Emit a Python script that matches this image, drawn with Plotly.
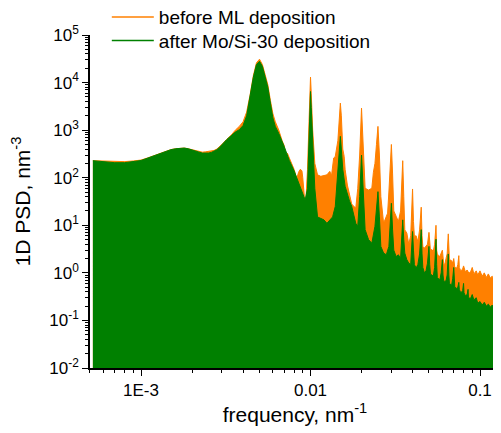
import plotly.graph_objects as go

# ---- data: before ML deposition (orange) ----
f_before = [0.00052, 0.0006, 0.0007, 0.0008, 0.0009, 0.001, 0.0011, 0.0012, 0.0013, 0.0014,
            0.0015, 0.0016, 0.0017, 0.0018, 0.0019, 0.002, 0.0021, 0.0022, 0.0023, 0.0024,
            0.0025, 0.0026, 0.0027, 0.0028, 0.0029, 0.003, 0.0032, 0.0034, 0.0036, 0.0038,
            0.004, 0.0042, 0.0044, 0.0046, 0.0048, 0.005, 0.0052, 0.0054, 0.0056, 0.0058,
            0.006, 0.0062, 0.0065, 0.0068, 0.007, 0.0072, 0.0073, 0.0075, 0.0078, 0.008,
            0.0083, 0.0085, 0.0087, 0.0089, 0.009, 0.0092, 0.0094, 0.0096, 0.0098, 0.0099,
            0.01, 0.0101, 0.0103, 0.0106, 0.011, 0.0115, 0.012, 0.0125, 0.013, 0.0133,
            0.0137, 0.014, 0.0145, 0.0148, 0.015, 0.0152, 0.0155, 0.0158, 0.016, 0.0165,
            0.017, 0.0175, 0.018, 0.0185, 0.019, 0.0195, 0.02, 0.0205, 0.021, 0.022,
            0.023, 0.0235, 0.024, 0.0245, 0.025, 0.0255, 0.026, 0.027, 0.028, 0.0285,
            0.029, 0.0295, 0.03, 0.0305, 0.031, 0.032, 0.033, 0.034, 0.0345, 0.035,
            0.0355, 0.036, 0.037, 0.038, 0.039, 0.0395, 0.04, 0.0405, 0.041, 0.042,
            0.043, 0.044, 0.045, 0.0455, 0.046, 0.047, 0.048, 0.049, 0.05, 0.0505,
            0.051, 0.052, 0.053, 0.054, 0.055, 0.0555, 0.056, 0.057, 0.058, 0.059,
            0.06, 0.061, 0.062, 0.063, 0.064, 0.065, 0.0655, 0.066, 0.068, 0.069,
            0.07, 0.071, 0.073, 0.074, 0.075, 0.0755, 0.077, 0.079, 0.08, 0.082,
            0.084, 0.086, 0.088, 0.09, 0.092, 0.095, 0.097, 0.1, 0.103, 0.106,
            0.109, 0.112, 0.115, 0.118, 0.121, 0.124, 0.127, 0.13]
psd_before = [228, 222, 218, 218, 225, 235, 262, 296, 326, 358,
              390, 407, 420, 420, 406, 388, 372, 350, 345, 350,
              360, 365, 375, 400, 440, 500, 640, 780, 1000, 1200,
              1500, 2400, 5500, 14000, 26000, 31000, 24000, 15000, 9000, 4200,
              2200, 1500, 1000, 600, 470, 250, 330, 260, 190, 150,
              95, 130, 150, 140, 100, 40, 35, 150, 1500, 5000,
              13000, 6000, 1000, 200, 115, 107, 110, 115, 136, 110,
              260, 280, 600, 2000, 3700, 2000, 400, 280, 150, 70,
              42, 28, 25, 23, 60, 300, 2900, 400, 60, 55,
              60, 130, 200, 500, 1200, 300, 40, 11, 15, 18,
              50, 180, 500, 120, 20, 15.5, 12, 20, 80, 228,
              40, 8, 6.9, 4, 6, 20, 58, 12, 5.9, 6,
              4.5, 8, 24, 6, 3.6, 3.3, 3.6, 4, 7.1, 3.2,
              3.0, 3.1, 2.8, 4, 10, 3, 2.5, 2.3, 2.2, 2.6,
              3, 1.6, 1.5, 2, 2.5, 6.6, 2.0, 1.9, 1.8, 1.6,
              2.0, 1.3, 1.26, 1.5, 2.3, 1.3, 1.1, 1.2, 1.4, 1.05,
              1.15, 0.98, 1.05, 1.3, 0.95, 1.1, 0.9, 1.1, 0.85, 1.0,
              0.8, 0.95, 0.78, 0.85, 0.72, 0.75, 0.68, 0.67]

# ---- data: after Mo/Si-30 deposition (green) ----
f_after = [0.00052, 0.0006, 0.0007, 0.0008, 0.0009, 0.001, 0.0011, 0.0012, 0.0013, 0.0014,
           0.0015, 0.0016, 0.0017, 0.0018, 0.0019, 0.002, 0.0021, 0.0022, 0.0023, 0.0024,
           0.0025, 0.0026, 0.0027, 0.0028, 0.0029, 0.003, 0.0032, 0.0034, 0.0036, 0.0038,
           0.004, 0.0042, 0.0044, 0.0046, 0.0048, 0.005, 0.0052, 0.0054, 0.0056, 0.0058,
           0.006, 0.0062, 0.0065, 0.007, 0.0075, 0.008, 0.0085, 0.009, 0.0093, 0.0096,
           0.0098, 0.0099, 0.01, 0.0101, 0.0103, 0.0106, 0.011, 0.0115, 0.012, 0.0125,
           0.013, 0.0135, 0.014, 0.0145, 0.0148, 0.015, 0.0152, 0.0155, 0.016, 0.0165,
           0.017, 0.0175, 0.018, 0.0185, 0.019, 0.0195, 0.02, 0.0205, 0.021, 0.022,
           0.023, 0.024, 0.0245, 0.025, 0.0255, 0.026, 0.027, 0.028, 0.029, 0.0295,
           0.03, 0.0305, 0.031, 0.032, 0.033, 0.034, 0.0345, 0.035, 0.0355, 0.036,
           0.037, 0.038, 0.039, 0.0395, 0.04, 0.0405, 0.041, 0.042, 0.043, 0.044,
           0.045, 0.0455, 0.046, 0.047, 0.048, 0.049, 0.05, 0.0505, 0.051, 0.052,
           0.053, 0.054, 0.055, 0.0555, 0.056, 0.057, 0.058, 0.059, 0.06, 0.0605,
           0.061, 0.062, 0.063, 0.064, 0.065, 0.0655, 0.066, 0.068, 0.069, 0.07,
           0.0705, 0.071, 0.073, 0.074, 0.075, 0.0755, 0.077, 0.079, 0.08, 0.0805,
           0.082, 0.084, 0.085, 0.0855, 0.088, 0.09, 0.092, 0.095, 0.097, 0.1,
           0.103, 0.106, 0.109, 0.112, 0.115, 0.118, 0.121, 0.124, 0.127, 0.13]
psd_after = [228, 214, 207, 207, 217, 230, 260, 294, 324, 357,
             388, 406, 420, 420, 406, 388, 370, 345, 330, 324,
             330, 340, 357, 388, 433, 494, 630, 760, 910, 1020,
             1250, 2000, 5000, 13000, 24000, 28000, 22000, 14000, 8000, 3700,
             1800, 1200, 850, 450, 230, 140, 77, 44, 34, 60,
             700, 2500, 6500, 3000, 500, 60, 15, 14, 13, 11,
             13, 15, 25, 120, 400, 740, 400, 150, 66, 44,
             32, 25, 17, 11, 9.5, 40, 300, 60, 8.1, 5,
             4.2, 9.5, 25, 51, 15, 3.6, 2.6, 2.4, 3.6, 10,
             29, 8, 3, 2.2, 2.4, 2.0, 6, 13, 5, 2.6,
             1.9, 1.6, 1.5, 3.5, 7.4, 3, 1.5, 1.26, 1.5, 2.5,
             8.1, 2.5, 1.3, 1.0, 1.1, 1.6, 3.6, 1.5, 0.95, 0.9,
             0.85, 1.3, 5.1, 1.5, 0.8, 0.75, 0.72, 1.0, 1.9, 0.9,
             0.7, 0.66, 0.68, 0.9, 2.5, 0.9, 0.6, 0.55, 0.75, 1.3,
             0.6, 0.5, 0.47, 0.5, 0.63, 0.45, 0.38, 0.42, 0.6, 0.38,
             0.33, 0.35, 0.45, 0.3, 0.29, 0.35, 0.27, 0.3, 0.23, 0.25,
             0.21, 0.24, 0.2, 0.22, 0.19, 0.21, 0.18, 0.19, 0.17, 0.17]

x_tickvals = [0.001, 0.01, 0.1]
x_ticktext = ["1E-3", "0.01", "0.1"]
y_tickvals = [1e-2, 1e-1, 1e0, 1e1, 1e2, 1e3, 1e4, 1e5]
y_ticktext = ["10<sup>-2</sup>", "10<sup>-1</sup>", "10<sup>0</sup>", "10<sup>1</sup>",
              "10<sup>2</sup>", "10<sup>3</sup>", "10<sup>4</sup>", "10<sup>5</sup>"]

ORANGE = "#FF8000"
GREEN = "#008000"
FONT = "Liberation Sans, Arial, Helvetica, sans-serif"

fig = go.Figure()
fig.add_trace(go.Scatter(x=f_before, y=psd_before, mode="lines", fill="tozeroy",
                         line=dict(color=ORANGE, width=1), fillcolor=ORANGE,
                         showlegend=False, hoverinfo="skip"))
fig.add_trace(go.Scatter(x=f_after, y=psd_after, mode="lines", fill="tozeroy",
                         line=dict(color=GREEN, width=1), fillcolor=GREEN,
                         showlegend=False, hoverinfo="skip"))
# legend entries (line only), one legend box per row
fig.add_trace(go.Scatter(x=[None], y=[None], mode="lines", name="before ML deposition",
                         line=dict(color=ORANGE, width=1.5), legend="legend"))
fig.add_trace(go.Scatter(x=[None], y=[None], mode="lines", name="after Mo/Si-30 deposition",
                         line=dict(color=GREEN, width=1.5), legend="legend2"))

axis_common = dict(showline=True, linecolor="black", linewidth=1.5, ticks="outside",
                   ticklen=6, tickwidth=1.2, tickcolor="black", showgrid=False,
                   zeroline=False, mirror=False, automargin=True,
                   tickfont=dict(family=FONT, size=17, color="black"),
                   minor=dict(ticks="outside", ticklen=3, tickwidth=1, tickcolor="black",
                              dtick="D1", showgrid=False))

fig.update_xaxes(type="log", range=[-3.301, -0.882], tickmode="array",
                 tickvals=x_tickvals, ticktext=x_ticktext,
                 title=dict(text="frequency, nm<sup>-1</sup>", font=dict(family=FONT, size=21, color="black"),
                            standoff=4),
                 **axis_common)
fig.update_yaxes(type="log", range=[-2, 5], tickmode="array",
                 tickvals=y_tickvals, ticktext=y_ticktext,
                 title=dict(text="1D PSD, nm<sup>-3</sup>", font=dict(family=FONT, size=21, color="black"),
                            standoff=13),
                 **axis_common)

legend_common = dict(x=0.041, xanchor="left", yanchor="top", bgcolor="rgba(0,0,0,0)",
                     itemwidth=42, font=dict(family=FONT, size=19, color="black"))
fig.update_layout(width=493, height=425,
                  margin=dict(l=82, r=1, t=27, b=65, autoexpand=False),
                  paper_bgcolor="white", plot_bgcolor="white",
                  legend=dict(y=1.111, **legend_common),
                  legend2=dict(y=1.040, **legend_common),
                  font=dict(family=FONT, color="black"))

fig.write_html("out.html")
